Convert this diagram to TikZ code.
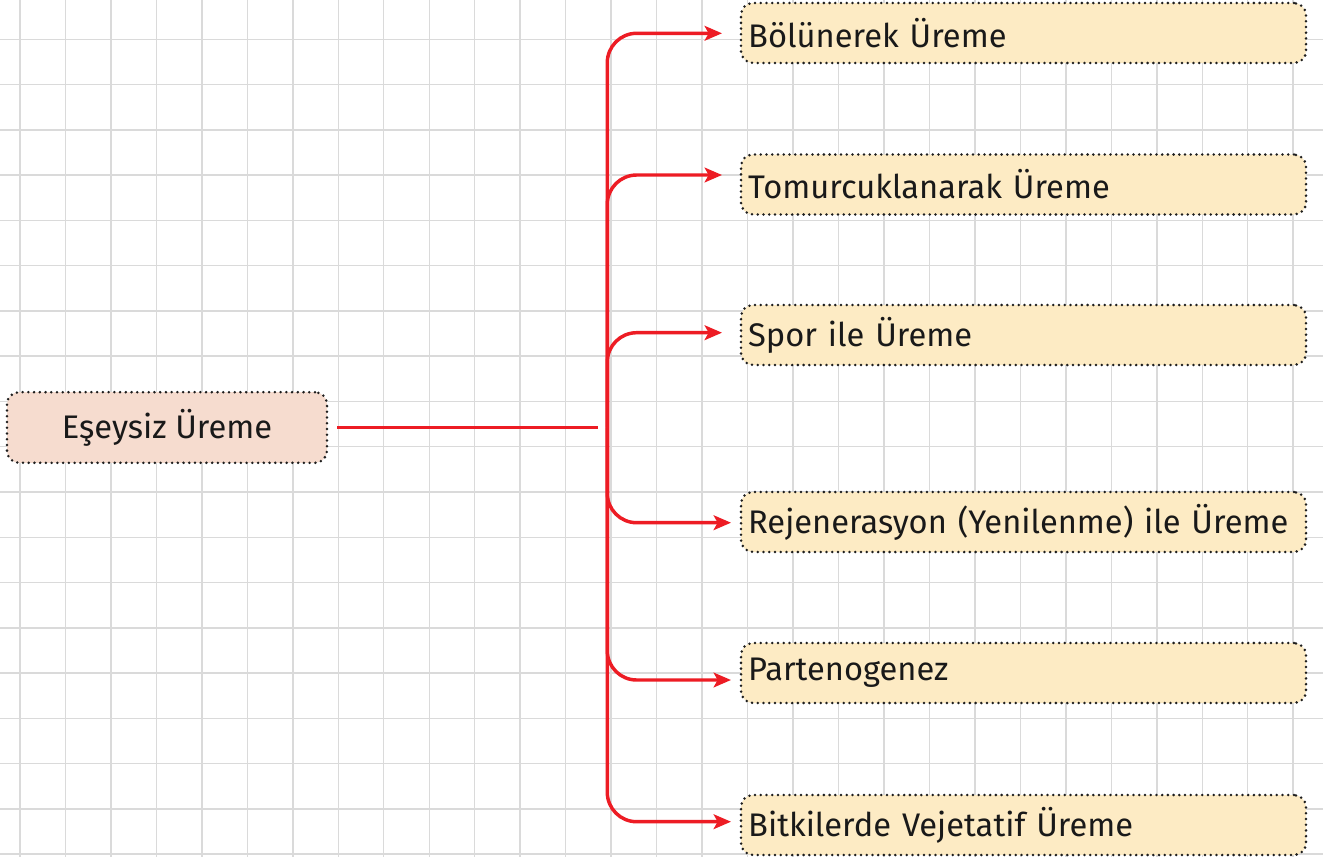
\documentclass[tikz,border=0pt]{standalone}
\usepackage{fontspec}
\setmainfont{Fira Sans}
\usetikzlibrary{arrows.meta}
\definecolor{gridgray}{HTML}{DADADA}
\definecolor{linkred}{HTML}{ED1C24}
\definecolor{rootfill}{HTML}{F6DCCF}
\definecolor{leaffill}{HTML}{FDEBC4}
\definecolor{dotink}{HTML}{1E1E1E}
\begin{document}
\begin{tikzpicture}[x=0.75pt,y=-0.75pt,
  dotbox/.style={draw=dotink, line width=2.1pt, line cap=round,
    dash pattern=on 0pt off 4.3pt, rounded corners=9pt,
    font=\fontsize{24.5}{28}\selectfont, text=black!90},
  rootbox/.style={dotbox, fill=rootfill, minimum width=240pt, minimum height=53pt, align=center},
  leafbox/.style={dotbox, fill=leaffill, minimum width=423.75pt, minimum height=45pt,
    text width=413pt, inner xsep=5pt, align=left},
  link/.style={draw=linkred, line width=2.6pt, rounded corners=22pt},
  tip/.style={-{Stealth[length=13pt,width=11pt,inset=3pt]}},
]
% page and squared paper
\fill[white] (0,0) rectangle (1323,857);
\useasboundingbox (0,0) rectangle (1323,857);
\foreach \k in {0,...,28}
  \draw[gridgray, line width=1.1pt] ({20+45.47*\k},0) -- ({20+45.47*\k},857);
\foreach \k in {0,...,18}
  \draw[gridgray, line width=1.1pt] (0,{39.3+45.27*\k}) -- (1323,{39.3+45.27*\k});

% nodes
\node[rootbox] (root) at (167,427.5) {Eşeysiz Üreme};
\node[leafbox] (b1) at (1023.5,33)  {Bölünerek Üreme};
\node[leafbox] (b2) at (1023.5,184.5) {Tomurcuklanarak Üreme};
\node[leafbox] (b3) at (1023.5,335) {Spor ile Üreme};
\node[leafbox] (b4) at (1023.5,522) {Rejenerasyon (Yenilenme) ile Üreme};
\node[leafbox] (b5) at (1023.5,673) {Partenogenez};
\node[leafbox] (b6) at (1023.5,825) {Bitkilerde Vejetatif Üreme};

% connectors
\coordinate (hubL) at (337,427.7);
\coordinate (hubR) at (598,427.7);
\coordinate (trunk) at (607.3,427.7);
\coordinate (e1) at (722,33.3);
\coordinate (e2) at (722,175);
\coordinate (e3) at (722,332.7);
\coordinate (e4) at (731,522.7);
\coordinate (e5) at (731,680);
\coordinate (e6) at (731,821.7);

\draw[draw=linkred, line width=1.9pt] (hubL) -- (hubR);
\foreach \e in {e1,e2,e3,e4,e5,e6}
  \draw[link, tip] (trunk) |- (\e);
\end{tikzpicture}
\end{document}
